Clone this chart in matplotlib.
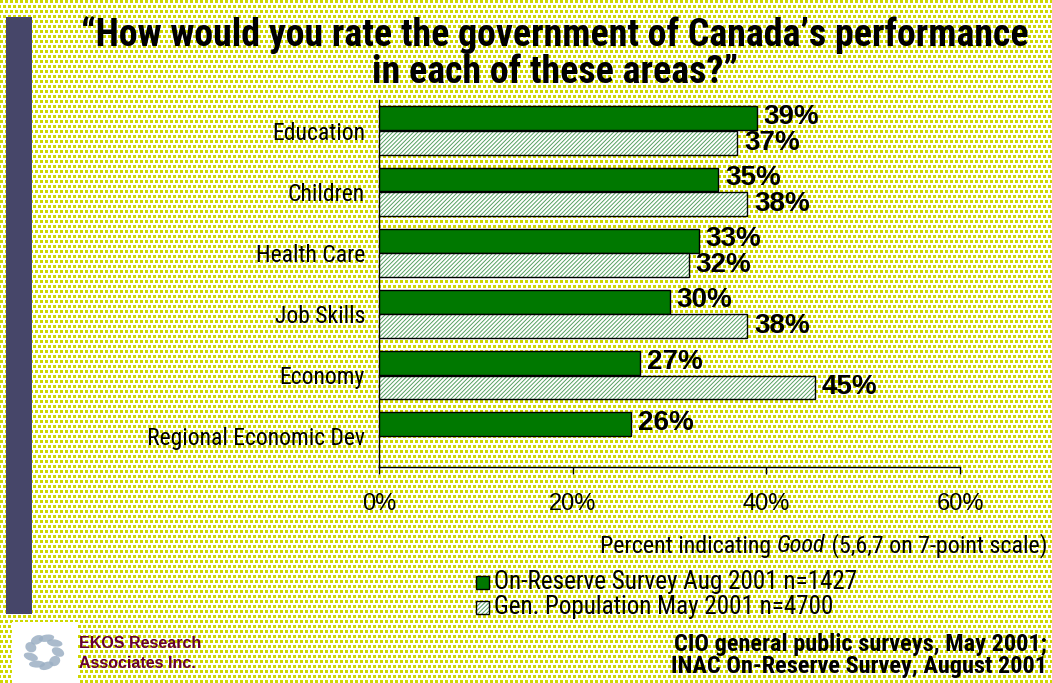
import numpy as np
import matplotlib
matplotlib.use("Agg")
import matplotlib.pyplot as plt
from matplotlib import font_manager
from matplotlib.patches import Rectangle, Ellipse

# ---- data ----
categories = ["Education", "Children", "Health Care", "Job Skills", "Economy",
              "Regional Economic Dev"]
on_reserve = [39, 35, 33, 30, 27, 26]
gen_population = [37, 38, 32, 38, 45, None]
x_ticks = [0, 20, 40, 60]
x_tick_labels = ["0%", "20%", "40%", "60%"]
series_names = ["On-Reserve Survey Aug 2001 n=1427",
                "Gen. Population May 2001 n=4700"]

W, H, DPI = 1052, 683, 100
installed = {f.name for f in font_manager.fontManager.ttflist}
NARROW = [f for f in ["Liberation Sans Narrow", "Roboto Condensed", "Arial Narrow"]
          if f in installed] + ["Liberation Sans", "DejaVu Sans"]
ARIAL = ["Liberation Sans", "DejaVu Sans"]
GREEN = "#007800"
HATCH_GREEN = "#55a060"

plt.rcParams["hatch.linewidth"] = 0.7

fig = plt.figure(figsize=(W / DPI, H / DPI), dpi=DPI)
renderer = fig.canvas.get_renderer()


def fit_size(text, target_px, base=20, **kw):
    """Font size that makes `text` span target_px pixels wide."""
    t = fig.text(0, 0, text, fontsize=base, **kw)
    w = t.get_window_extent(renderer).width
    t.remove()
    return base * target_px / w


# textured yellow slide background: staggered small squares on white
yy, xx = np.mgrid[0:H, 0:W]
shift = ((yy // 5) % 2) * 2
mask = (((xx + shift) % 5) < 3) & ((yy % 5) < 3)
bg = np.ones((H, W, 3))
bg[mask] = np.array([206, 216, 0]) / 255.0
fig.figimage(bg, xo=0, yo=0, origin="upper", zorder=-10)

# left accent bar
fig.patches.append(Rectangle((6 / W, 1 - 614 / H), 26 / W, (614 - 17) / H,
                             transform=fig.transFigure, facecolor="#464669",
                             edgecolor="none", zorder=1))

# chart
ax = fig.add_axes([379 / W, 1 - 467 / H, (960 - 379) / W, (467 - 100) / H])
ax.set_facecolor("none")
y = np.arange(len(categories))
h = 0.39
off = 0.2

ax.barh(y - off, on_reserve, height=h, color=GREEN, edgecolor="black",
        linewidth=1.0, zorder=3)
gp_idx = [i for i, v in enumerate(gen_population) if v is not None]
gp_vals = [gen_population[i] for i in gp_idx]
ax.barh(y[gp_idx] + off, gp_vals, height=h, color="white",
        edgecolor=HATCH_GREEN, hatch="////////", linewidth=0, zorder=3)
ax.barh(y[gp_idx] + off, gp_vals, height=h, fill=False, edgecolor="black",
        linewidth=1.0, zorder=4)

val_size = 20
for i, v in enumerate(on_reserve):
    ax.annotate(f"{v}%", (v, y[i] - off), xytext=(5, 1), textcoords="offset points",
                va="center", ha="left", fontsize=val_size, fontweight="bold",
                family=ARIAL, zorder=5)
for i in gp_idx:
    v = gen_population[i]
    ax.annotate(f"{v}%", (v, y[i] + off), xytext=(5, 0), textcoords="offset points",
                va="center", ha="left", fontsize=val_size, fontweight="bold",
                family=ARIAL, zorder=5)

cat_size = fit_size("Regional Economic Dev", 218, family=NARROW)
ax.set_xlim(0, 60)
ax.set_ylim(len(categories) - 0.5, -0.5)
ax.set_xticks(x_ticks)
ax.set_xticklabels(x_tick_labels, family=ARIAL, fontsize=17)
ax.set_yticks(y)
ax.set_yticklabels(categories, family=NARROW, fontsize=cat_size)
ax.tick_params(axis="x", direction="out", length=5, width=1, pad=14)
ax.tick_params(axis="y", length=0, pad=10)
for s in ["top", "right"]:
    ax.spines[s].set_visible(False)
for s in ["left", "bottom"]:
    ax.spines[s].set_linewidth(1.0)

# title
title1 = "\u201cHow would you rate the government of Canada\u2019s performance"
title_size = fit_size(title1, 945, family=NARROW, fontweight="bold")
fig.text(555 / W, 1 - 54 / H,
         title1 + "\nin each of these areas?\u201d",
         ha="center", va="center", fontsize=title_size, fontweight="bold",
         family=NARROW, linespacing=1.0)

# axis caption with italic word
cap_size = fit_size("Percent indicating Good (5,6,7 on 7-point scale)", 449,
                    family=NARROW)
cap_y = 1 - 546 / H
t3 = fig.text(1047 / W, cap_y, " (5,6,7 on 7-point scale)", ha="right",
              va="center", fontsize=cap_size, family=NARROW)
bb = t3.get_window_extent(renderer)
t2 = fig.text(bb.x0 / W, cap_y, "Good", ha="right", va="center",
              fontsize=cap_size, family=NARROW, style="italic")
bb = t2.get_window_extent(renderer)
fig.text(bb.x0 / W, cap_y, "Percent indicating ", ha="right", va="center",
         fontsize=cap_size, family=NARROW)

# legend
leg_size = fit_size(series_names[0], 363, family=NARROW)
leg_y = [582, 607]
for k, name in enumerate(series_names):
    ty = 1 - leg_y[k] / H
    box = (476 / W, ty - 7 / H)
    if k == 0:
        fig.patches.append(Rectangle(box, 13 / W, 13 / H,
                                     transform=fig.transFigure, facecolor=GREEN,
                                     edgecolor="black", linewidth=1))
    else:
        fig.patches.append(Rectangle(box, 13 / W, 13 / H,
                                     transform=fig.transFigure, facecolor="white",
                                     edgecolor=HATCH_GREEN, hatch="////////",
                                     linewidth=0))
        fig.patches.append(Rectangle(box, 13 / W, 13 / H,
                                     transform=fig.transFigure, fill=False,
                                     edgecolor="black", linewidth=1))
    fig.text(494 / W, ty, name, ha="left", va="center", fontsize=leg_size,
             family=NARROW)

# source note
src_size = fit_size("INAC On-Reserve Survey, August 2001", 375, family=NARROW,
                    fontweight="bold")
fig.text(1047 / W, 1 - 645 / H, "CIO general public surveys, May 2001;",
         ha="right", va="center", fontsize=src_size, fontweight="bold",
         family=NARROW)
fig.text(1047 / W, 1 - 667 / H, "INAC On-Reserve Survey, August 2001",
         ha="right", va="center", fontsize=src_size, fontweight="bold",
         family=NARROW)

# company mark
fig.patches.append(Rectangle((12 / W, 0), 66 / W, 61 / H,
                             transform=fig.transFigure, facecolor="white",
                             edgecolor="none", zorder=1))
cx, cy = 44, 652
for a in np.arange(0, 360, 40):
    r = np.deg2rad(a)
    px = cx + 14 * np.cos(r)
    py = cy + 14 * np.sin(r)
    fig.patches.append(Ellipse((px / W, 1 - py / H), 16 / W, 7 / H, angle=-a - 60,
                               transform=fig.transFigure, facecolor="#9cb0c4",
                               edgecolor="none", alpha=0.85, zorder=2))
fig.text(79 / W, 1 - 644 / H, "EKOS Research", ha="left", va="center",
         fontsize=11.5, fontweight="bold", family=ARIAL, color="#660033")
fig.text(79 / W, 1 - 664 / H, "Associates Inc.", ha="left", va="center",
         fontsize=11.5, fontweight="bold", family=ARIAL, color="#660033")

fig.savefig("out.png", dpi=DPI)
